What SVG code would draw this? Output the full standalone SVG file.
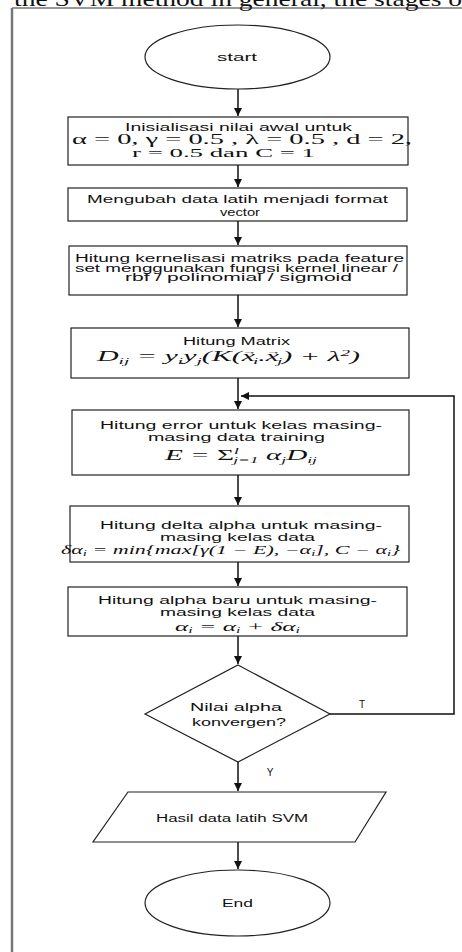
<svg xmlns="http://www.w3.org/2000/svg" width="462" height="952" viewBox="0 0 462 952">
<style>
.s{font-family:"Liberation Sans",Arial,sans-serif;font-size:10px;fill:#111}
.m{font-family:"Liberation Serif","DejaVu Serif",serif;fill:#111}
.i{font-style:italic}
.n{fill:#fff;stroke:#222;stroke-width:1.2}
.c{fill:none;stroke:#111;stroke-width:1.5}
</style>
<defs>
<marker id="ah" markerWidth="10" markerHeight="10" refX="8" refY="5" orient="auto" markerUnits="userSpaceOnUse">
<path d="M0,1 L8,5 L0,9 Z" fill="#111"/>
</marker>
</defs>
<rect width="462" height="952" fill="#fff"/>
<text class="m" x="14" y="6" font-size="22" textLength="448" lengthAdjust="spacingAndGlyphs">the SVM method in general, the stages o</text>
<line x1="12" y1="8" x2="462" y2="8" stroke="#333" stroke-width="1"/>
<line x1="12" y1="8" x2="12" y2="952" stroke="#777" stroke-width="2.5"/>

<g id="connectors">
<path class="c" d="M238,89 V116" marker-end="url(#ah)"/>
<path class="c" d="M238,165 V187" marker-end="url(#ah)"/>
<path class="c" d="M238,221 V245" marker-end="url(#ah)"/>
<path class="c" d="M238,295 V327" marker-end="url(#ah)"/>
<path class="c" d="M238,378 V409" marker-end="url(#ah)"/>
<path class="c" d="M330,714 H454 V396 H241" marker-end="url(#ah)"/>
<path class="c" d="M238,475 V505" marker-end="url(#ah)"/>
<path class="c" d="M238,562 V586" marker-end="url(#ah)"/>
<path class="c" d="M238,636 V664" marker-end="url(#ah)"/>
<path class="c" d="M238,762 V791" marker-end="url(#ah)"/>
<path class="c" d="M238,842 V869" marker-end="url(#ah)"/>
<text class="s" x="362" y="708" text-anchor="middle">T</text>
<text class="s" x="270" y="776" text-anchor="middle">Y</text>
</g>

<g id="start">
<ellipse class="n" cx="237.5" cy="57" rx="92.5" ry="32"/>
<text class="s" x="217" y="61" textLength="40" lengthAdjust="spacingAndGlyphs">start</text>
</g>

<g id="init">
<rect class="n" x="68" y="117" width="340" height="48"/>
<text class="s" x="125" y="130.5" font-size="8.5" textLength="227" lengthAdjust="spacingAndGlyphs">Inisialisasi nilai awal untuk</text>
<text class="m" x="72" y="143.5" font-size="14" textLength="340" lengthAdjust="spacingAndGlyphs">α = 0, γ = 0.5 , λ = 0.5 , d = 2,</text>
<text class="m" x="132" y="157" font-size="13" textLength="183" lengthAdjust="spacingAndGlyphs">r = 0.5 dan C = 1</text>
</g>

<g id="vector">
<rect class="n" x="68" y="188" width="339" height="33"/>
<text class="s" x="87" y="203" textLength="301" lengthAdjust="spacingAndGlyphs">Mengubah data latih menjadi format</text>
<text class="s" x="220" y="216" textLength="40" lengthAdjust="spacingAndGlyphs">vector</text>
</g>

<g id="kernel">
<rect class="n" x="69" y="246" width="338" height="49"/>
<text class="s" x="75" y="262" font-size="9" textLength="329" lengthAdjust="spacingAndGlyphs">Hitung kernelisasi matriks pada feature</text>
<text class="s" x="75" y="271.5" font-size="9" textLength="323" lengthAdjust="spacingAndGlyphs">set menggunakan fungsi kernel linear /</text>
<text class="s" x="125" y="281" font-size="9" textLength="227" lengthAdjust="spacingAndGlyphs">rbf / polinomial / sigmoid</text>
</g>

<g id="matrix">
<rect class="n" x="71" y="328" width="338" height="50"/>
<text class="s" x="183" y="345" textLength="107" lengthAdjust="spacingAndGlyphs">Hitung Matrix</text>
<text class="m i" x="97" y="361" font-size="14" textLength="263" lengthAdjust="spacingAndGlyphs">D<tspan font-size="9" dy="3">ij</tspan><tspan dy="-3"> = y</tspan><tspan font-size="9" dy="3">i</tspan><tspan dy="-3">y</tspan><tspan font-size="9" dy="3">j</tspan><tspan dy="-3">(K(x</tspan><tspan font-size="7" font-style="normal" dx="-6" dy="-7">→</tspan><tspan font-size="9" dx="-2" dy="10">i</tspan><tspan dy="-3">.x</tspan><tspan font-size="7" font-style="normal" dx="-6" dy="-7">→</tspan><tspan font-size="9" dx="-2" dy="10">j</tspan><tspan dy="-3">) + λ</tspan><tspan font-size="9" dy="-5">2</tspan><tspan dy="5">)</tspan></text>
</g>

<g id="error">
<rect class="n" x="72" y="410" width="337" height="65"/>
<text class="s" x="100" y="429" textLength="282" lengthAdjust="spacingAndGlyphs">Hitung error untuk kelas masing-</text>
<text class="s" x="148" y="441" textLength="177" lengthAdjust="spacingAndGlyphs">masing data training</text>
<text class="m i" x="165" y="460" font-size="15" textLength="152" lengthAdjust="spacingAndGlyphs">E = <tspan font-style="normal">Σ</tspan><tspan font-size="9" dy="-6">l</tspan><tspan font-size="9" dx="-3" dy="9">j=1</tspan><tspan dy="-3"> α</tspan><tspan font-size="9" dy="3">j</tspan><tspan dy="-3">D</tspan><tspan font-size="9" dy="3">ij</tspan></text>
</g>

<g id="delta">
<rect class="n" x="70" y="506" width="339" height="56"/>
<text class="s" x="100" y="529" textLength="282" lengthAdjust="spacingAndGlyphs">Hitung delta alpha untuk  masing-</text>
<text class="s" x="160" y="541" textLength="155" lengthAdjust="spacingAndGlyphs">masing kelas data</text>
<text class="m i" x="61" y="554" font-size="12" textLength="339" lengthAdjust="spacingAndGlyphs">δα<tspan font-size="8" dy="2">i</tspan><tspan dy="-2"> = min{max[γ(1 − E), −α</tspan><tspan font-size="8" dy="2">i</tspan><tspan dy="-2">], C − α</tspan><tspan font-size="8" dy="2">i</tspan><tspan dy="-2">}</tspan></text>
</g>

<g id="update">
<rect class="n" x="68" y="587" width="339" height="49"/>
<text class="s" x="98" y="604" textLength="279" lengthAdjust="spacingAndGlyphs">Hitung alpha baru untuk  masing-</text>
<text class="s" x="160" y="616" textLength="155" lengthAdjust="spacingAndGlyphs">masing kelas data</text>
<text class="m i" x="175" y="631" font-size="13" textLength="125" lengthAdjust="spacingAndGlyphs">α<tspan font-size="8" dy="2">i</tspan><tspan dy="-2"> = α</tspan><tspan font-size="8" dy="2">i</tspan><tspan dy="-2"> + δα</tspan><tspan font-size="8" dy="2">i</tspan></text>
</g>

<g id="decision">
<polygon class="n" points="238,665 330,714 238,762 145,714"/>
<text class="s" x="190" y="711" textLength="92" lengthAdjust="spacingAndGlyphs">Nilai alpha</text>
<text class="s" x="192" y="726" textLength="94" lengthAdjust="spacingAndGlyphs">konvergen?</text>
</g>

<g id="output">
<polygon class="n" points="128,792 386,792 355,842 93,842"/>
<text class="s" x="156" y="822" textLength="152" lengthAdjust="spacingAndGlyphs">Hasil data latih SVM</text>
</g>

<g id="end">
<ellipse class="n" cx="237.5" cy="903" rx="92.5" ry="33"/>
<text class="s" x="222" y="907" textLength="31" lengthAdjust="spacingAndGlyphs">End</text>
</g>
</svg>
